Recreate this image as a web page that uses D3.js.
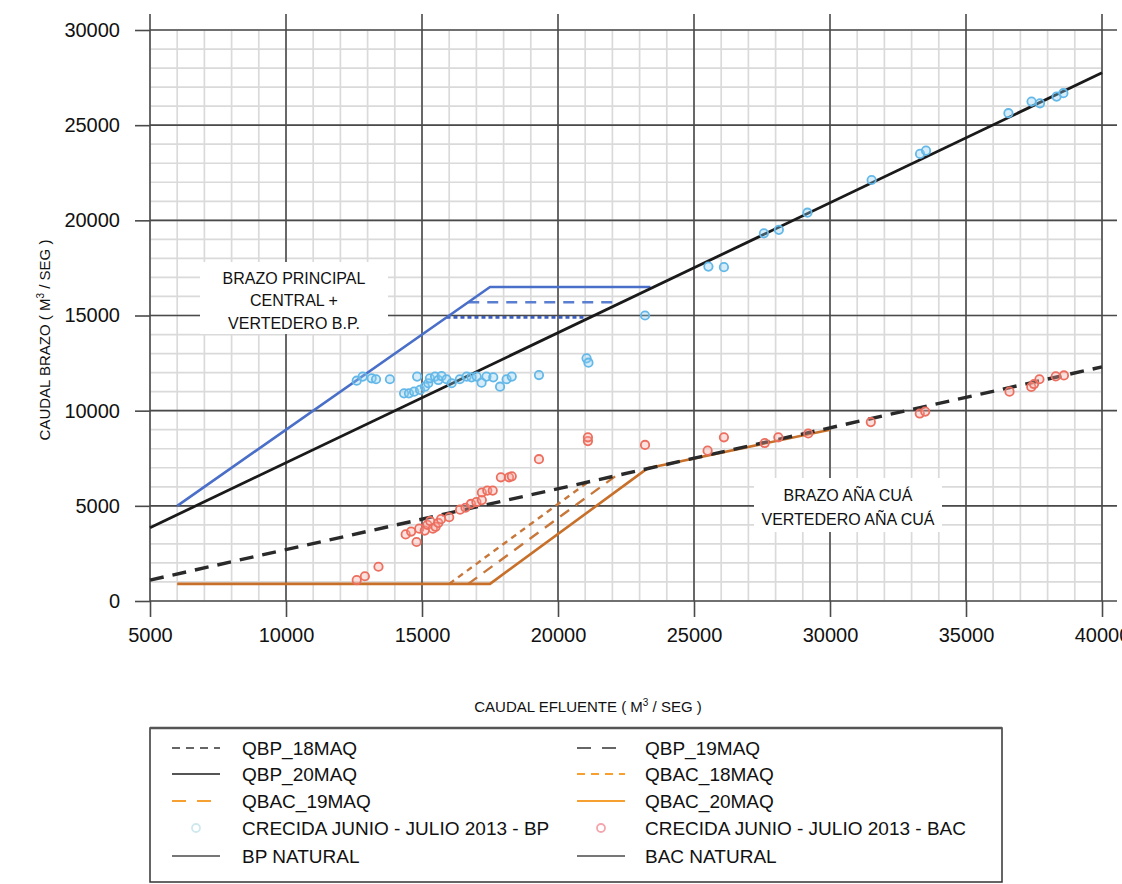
<!DOCTYPE html>
<html><head><meta charset="utf-8">
<script src="https://cdn.jsdelivr.net/npm/d3@7"></script>
<style>
body{margin:0;background:#fff;}
text{font-family:"Liberation Sans Narrow","Arial Narrow","Liberation Sans",sans-serif;fill:#111;}
</style></head><body>
<svg id="c" width="1122" height="884"></svg>
<script>
// ---- data ----
const xTicks = [5000,10000,15000,20000,25000,30000,35000,40000];
const yTicks = [0,5000,10000,15000,20000,25000,30000];

// black reference lines
const bpNatX = [5000, 40000];
const bpNatY = [3850, 27750];
const bacNatX = [5000, 40000];
const bacNatY = [1100, 12300];

// blue BP lines
const bp20X = [6000, 17500, 23400];
const bp20Y = [5000, 16500, 16500];
const bp19X = [16700, 22300];
const bp19Y = [15700, 15700];
const bp18X = [15900, 21000];
const bp18Y = [14900, 14900];

// orange BAC lines
const bac20X = [6000, 17500, 23300, 30000];
const bac20Y = [900, 900, 6980, 9000];
const bac19X = [16700, 22150];
const bac19Y = [900, 6600];
const bac18X = [16000, 21150];
const bac18Y = [900, 6300];

// observed flood June-July 2013
const bpObsX = [12600,12820,13150,13310,13820,14340,14520,14710,14820,14930,15110,15230,15290,15480,15600,15720,15900,16090,16390,16640,16820,17010,17190,17370,17620,17870,18110,18300,19300,21050,21120,23200,25530,26100,27570,28120,29170,31530,33310,33530,36560,37410,37720,38330,38580];
const bpObsY = [11575,11790,11700,11650,11650,10910,10910,11000,11790,11090,11260,11440,11700,11790,11610,11820,11650,11440,11650,11790,11750,11790,11470,11790,11750,11260,11650,11790,11870,12750,12520,15000,17570,17540,19320,19500,20400,22120,23490,23660,25630,26240,26150,26500,26680];
const bacObsX = [12600,12900,13400,14400,14600,14800,14900,15100,15200,15300,15400,15500,15600,15700,16000,16400,16600,16800,17000,17200,17200,17400,17600,17900,18200,18300,19300,21100,21100,23200,25500,26100,27600,28100,29200,31500,33300,33500,36600,37400,37500,37700,38300,38600];
const bacObsY = [1100,1300,1800,3500,3650,3100,3800,3700,4000,4200,3800,3900,4100,4300,4400,4800,4900,5100,5200,5300,5700,5800,5800,6500,6500,6550,7450,8400,8600,8200,7900,8600,8300,8600,8800,9400,9850,9950,11000,11250,11400,11650,11800,11850];

const legendLeft = ["QBP_18MAQ","QBP_20MAQ","QBAC_19MAQ","CRECIDA JUNIO - JULIO 2013 - BP","BP NATURAL"];
const legendRight = ["QBP_19MAQ","QBAC_18MAQ","QBAC_20MAQ","CRECIDA JUNIO - JULIO 2013 - BAC","BAC NATURAL"];

// ---- chart ----
const svg = d3.select("#c");
const x = d3.scaleLinear().domain([5000,40000]).range([150,1102]);
const y = d3.scaleLinear().domain([0,30000]).range([601,30]);

const minorX = d3.range(5000,40001,1000);
const minorY = d3.range(0,30001,1000);
const g = svg.append("g");
g.selectAll(".mx").data(minorX).join("line")
  .attr("x1",d=>x(d)).attr("x2",d=>x(d)).attr("y1",y(30000)).attr("y2",y(0))
  .attr("stroke","#dadada").attr("stroke-width",1.7);
g.selectAll(".my").data(minorY).join("line")
  .attr("x1",x(5000)).attr("x2",x(40000)).attr("y1",d=>y(d)).attr("y2",d=>y(d))
  .attr("stroke","#dadada").attr("stroke-width",1.7);
// major grid
g.selectAll(".Mx").data(xTicks).join("line")
  .attr("x1",d=>x(d)).attr("x2",d=>x(d)).attr("y1",14).attr("y2",y(0))
  .attr("stroke","#4a4a4a").attr("stroke-width",1.6);
g.selectAll(".My").data(yTicks).join("line")
  .attr("x1",x(5000)).attr("x2",1117).attr("y1",d=>y(d)).attr("y2",d=>y(d))
  .attr("stroke","#4a4a4a").attr("stroke-width",1.6);

// axes
const ax = svg.append("g").attr("transform",`translate(0,${y(0)})`)
  .call(d3.axisBottom(x).tickValues(xTicks).tickFormat(d3.format("d")).tickSize(16).tickSizeOuter(0));
ax.select(".domain").remove();
ax.selectAll(".tick line").attr("stroke","#4a4a4a").attr("stroke-width",1.6);
ax.selectAll(".tick text").attr("y",27).attr("dy","0.71em").style("font-size","20px").attr("fill","#111");
const ay = svg.append("g").attr("transform",`translate(${x(5000)},0)`)
  .call(d3.axisLeft(y).tickValues(yTicks).tickFormat(d3.format("d")).tickSize(15).tickSizeOuter(0));
ay.select(".domain").remove();
ay.selectAll(".tick line").attr("stroke","#4a4a4a").attr("stroke-width",1.6);
ay.selectAll(".tick text").attr("x",-30).style("font-size","20px").attr("fill","#111");

// annotation boxes
function box(cx, top, w, h, lines, lh){
  svg.append("rect").attr("x",cx-w/2).attr("y",top).attr("width",w).attr("height",h).attr("fill","#fff");
  lines.forEach((t,i)=>svg.append("text").attr("x",cx).attr("y",top+lh*0.78+ i*lh + 4)
    .attr("text-anchor","middle").style("font-size","16px").text(t));
}
box(294, 262, 188, 72, ["BRAZO PRINCIPAL","CENTRAL +","VERTEDERO B.P."], 22.5);
box(848, 478, 188, 54, ["BRAZO AÑA CUÁ","VERTEDERO AÑA CUÁ"], 24);

// lines
const line = d3.line().x(d=>x(d[0])).y(d=>y(d[1]));
function path(xs, ys, color, w, dash){
  svg.append("path").datum(xs.map((v,i)=>[v,ys[i]])).attr("d",line)
    .attr("fill","none").attr("stroke",color).attr("stroke-width",w)
    .attr("stroke-dasharray",dash||null).attr("stroke-linejoin","round");
}
path(bac18X,bac18Y,"#c8773a",2.4,"6,5");
path(bac19X,bac19Y,"#c8773a",2.4,"11,8");
path(bac20X,bac20Y,"#c8702a",2.6);
path(bp18X,bp18Y,"#3d5fbf",2.6,"4,3");
path(bp19X,bp19Y,"#5a7fd0",2.6,"11,8");
path(bp20X,bp20Y,"#4a6fc8",2.6);
path(bpNatX,bpNatY,"#1a1a1a",2.8);
path(bacNatX,bacNatY,"#2a2a2a",3.4,"14,9");

// observed points
svg.append("g").selectAll("circle").data(bpObsX.map((v,i)=>[v,bpObsY[i]])).join("circle")
  .attr("cx",d=>x(d[0])).attr("cy",d=>y(d[1])).attr("r",4.2)
  .attr("fill","rgba(140,205,240,0.35)").attr("stroke","#64b8e8").attr("stroke-width",1.8);
svg.append("g").selectAll("circle").data(bacObsX.map((v,i)=>[v,bacObsY[i]])).join("circle")
  .attr("cx",d=>x(d[0])).attr("cy",d=>y(d[1])).attr("r",4.2)
  .attr("fill","rgba(250,170,160,0.35)").attr("stroke","#ec6e5e").attr("stroke-width",1.8);

// axis titles
const xt = svg.append("text").attr("x",588).attr("y",712).attr("text-anchor","middle").style("font-size","15px");
xt.append("tspan").text("CAUDAL EFLUENTE ( M");
xt.append("tspan").attr("dy",-6).style("font-size","10px").text("3");
xt.append("tspan").attr("dy",6).text(" / SEG )");
const yt = svg.append("text").attr("transform","translate(50,340) rotate(-90)").attr("text-anchor","middle").style("font-size","15px");
yt.append("tspan").text("CAUDAL BRAZO ( M");
yt.append("tspan").attr("dy",-6).style("font-size","10px").text("3");
yt.append("tspan").attr("dy",6).text(" / SEG )");

// legend
const lg = svg.append("g");
lg.append("rect").attr("x",150).attr("y",728).attr("width",852).attr("height",154)
  .attr("fill","#fff").attr("stroke","#333").attr("stroke-width",1.5);
lg.append("line").attr("x1",150).attr("x2",1002).attr("y1",728).attr("y2",728).attr("stroke","#555").attr("stroke-width",2.5);
const rowY = [748,774,801,828,856];
const leftSym = [
  {c:"#666",d:"8,6"},{c:"#555"},{c:"#f5a030",d:"14,11"},{circle:"#cfe8ee"},{c:"#777"}];
const rightSym = [
  {c:"#666",d:"14,11"},{c:"#f5a030",d:"8,6"},{c:"#f5a030"},{circle:"#f5a5ad"},{c:"#777"}];
function legCol(labels, syms, sx, tx){
  labels.forEach((t,i)=>{
    const s = syms[i], yy = rowY[i];
    if(s.circle){
      lg.append("circle").attr("cx",sx+24).attr("cy",yy).attr("r",4).attr("fill","none").attr("stroke",s.circle).attr("stroke-width",1.8);
    } else {
      lg.append("line").attr("x1",sx).attr("x2",sx+48).attr("y1",yy).attr("y2",yy)
        .attr("stroke",s.c).attr("stroke-width",2.2).attr("stroke-dasharray",s.d||null);
    }
    lg.append("text").attr("x",tx).attr("y",yy).attr("dy","0.35em").style("font-size","19px").text(t);
  });
}
legCol(legendLeft, leftSym, 172, 242);
legCol(legendRight, rightSym, 577, 645);
</script></body></html>
